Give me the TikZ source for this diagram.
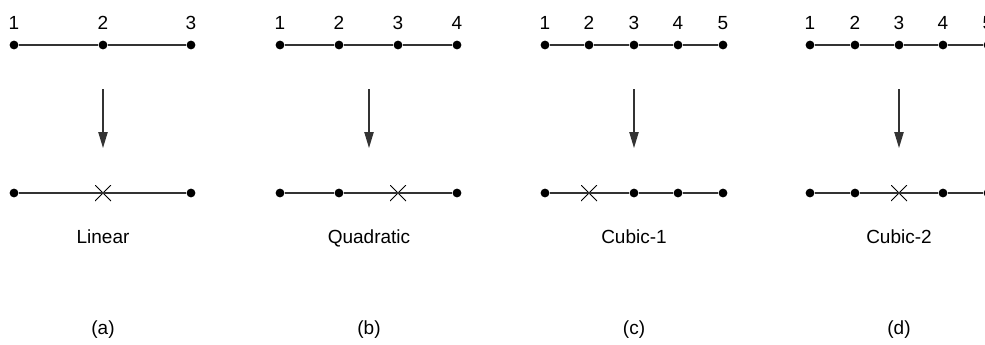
\documentclass[tikz,border=0pt]{standalone}
\usepackage{fontspec}
\setmainfont{Liberation Sans}
\usetikzlibrary{arrows.meta}
\begin{document}
\begin{tikzpicture}[x=0.75pt,y=-0.75pt,
  dot/.style={circle,fill=black,inner sep=0pt,minimum size=6.6pt},
  crossmark/.style={inner sep=0pt,minimum size=12pt,draw=none,path picture={
      \draw[black,line width=0.6pt] (path picture bounding box.north west)--(path picture bounding box.south east)
        (path picture bounding box.north east)--(path picture bounding box.south west);}},
  seg/.style={draw=black!80,line width=0.9pt},
  arr/.style={draw=black!80,line width=0.9pt,-{Triangle[length=12pt,width=7pt]}},
  num/.style={anchor=base,inner sep=0pt,font=\fontsize{14.25}{17}\selectfont},
  lbl/.style={anchor=base,inner sep=0pt,font=\fontsize{14.25}{17}\selectfont}]
\useasboundingbox (0,0) rectangle (985,344);
\clip (0,0) rectangle (985,344);
% ---------- (a) ----------
\node[dot] (a1) at (14,45) {};
\node[dot] (a2) at (103,45) {};
\node[dot] (a3) at (191,45) {};
\draw[seg] (a1) -- (a2) -- (a3);
\node[num] (ta1) at (14,29) {1};
\node[num] (ta2) at (103,29) {2};
\node[num] (ta3) at (191,29) {3};
\coordinate (as) at (103,89);
\coordinate (ae) at (103,148);
\draw[arr] (as) -- (ae);
\node[dot] (ab1) at (14,193) {};
\node[crossmark] (abx) at (103,193) {};
\node[dot] (ab3) at (191,193) {};
\draw[seg] (ab1) -- (abx.center) -- (ab3);
\node[lbl] (la) at (103,243) {Linear};
\node[lbl] (ca) at (103,334) {(a)};
% ---------- (b) ----------
\node[dot] (b1) at (280,45) {};
\node[dot] (b2) at (339,45) {};
\node[dot] (b3) at (398,45) {};
\node[dot] (b4) at (457,45) {};
\draw[seg] (b1) -- (b2) -- (b3) -- (b4);
\node[num] (tb1) at (280,29) {1};
\node[num] (tb2) at (339,29) {2};
\node[num] (tb3) at (398,29) {3};
\node[num] (tb4) at (457,29) {4};
\coordinate (bs) at (369,89);
\coordinate (be) at (369,148);
\draw[arr] (bs) -- (be);
\node[dot] (bb1) at (280,193) {};
\node[dot] (bb2) at (339,193) {};
\node[crossmark] (bbx) at (398,193) {};
\node[dot] (bb4) at (457,193) {};
\draw[seg] (bb1) -- (bb2) -- (bbx.center) -- (bb4);
\node[lbl] (lb) at (369,243) {Quadratic};
\node[lbl] (cb) at (369,334) {(b)};
% ---------- (c) ----------
\node[dot] (c1) at (545,45) {};
\node[dot] (c2) at (589,45) {};
\node[dot] (c3) at (634,45) {};
\node[dot] (c4) at (678,45) {};
\node[dot] (c5) at (723,45) {};
\draw[seg] (c1) -- (c2) -- (c3) -- (c4) -- (c5);
\node[num] (tc1) at (545,29) {1};
\node[num] (tc2) at (589,29) {2};
\node[num] (tc3) at (634,29) {3};
\node[num] (tc4) at (678,29) {4};
\node[num] (tc5) at (723,29) {5};
\coordinate (cs) at (634,89);
\coordinate (ce) at (634,148);
\draw[arr] (cs) -- (ce);
\node[dot] (cb1) at (545,193) {};
\node[crossmark] (cbx) at (589,193) {};
\node[dot] (cb3) at (634,193) {};
\node[dot] (cb4) at (678,193) {};
\node[dot] (cb5) at (723,193) {};
\draw[seg] (cb1) -- (cbx.center) -- (cb3) -- (cb4) -- (cb5);
\node[lbl] (lc) at (634,243) {Cubic-1};
\node[lbl] (cc) at (634,334) {(c)};
% ---------- (d) ----------
\node[dot] (d1) at (810,45) {};
\node[dot] (d2) at (855,45) {};
\node[dot] (d3) at (899,45) {};
\node[dot] (d4) at (943,45) {};
\node[dot] (d5) at (988,45) {};
\draw[seg] (d1) -- (d2) -- (d3) -- (d4) -- (d5);
\node[num] (td1) at (810,29) {1};
\node[num] (td2) at (855,29) {2};
\node[num] (td3) at (899,29) {3};
\node[num] (td4) at (943,29) {4};
\node[num] (td5) at (988,29) {5};
\coordinate (ds) at (899,89);
\coordinate (de) at (899,148);
\draw[arr] (ds) -- (de);
\node[dot] (db1) at (810,193) {};
\node[dot] (db2) at (855,193) {};
\node[crossmark] (dbx) at (899,193) {};
\node[dot] (db4) at (943,193) {};
\node[dot] (db5) at (988,193) {};
\draw[seg] (db1) -- (db2) -- (dbx.center) -- (db4) -- (db5);
\node[lbl] (ld) at (899,243) {Cubic-2};
\node[lbl] (cd) at (899,334) {(d)};
\end{tikzpicture}
\end{document}
